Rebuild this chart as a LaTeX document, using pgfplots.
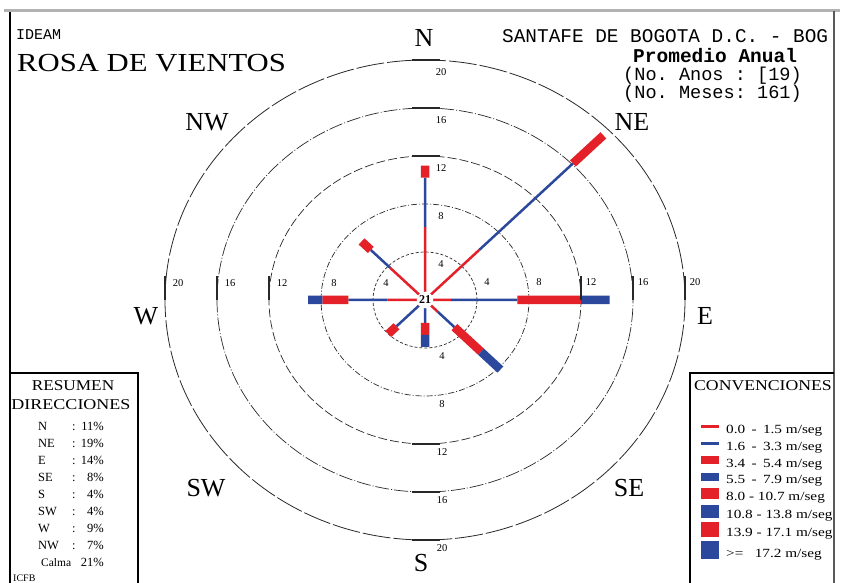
\documentclass[border=0pt]{standalone}
\usepackage{fontspec}
\setmainfont{Liberation Serif}
\setmonofont{Liberation Mono}
\usepackage{pgfplots}
\pgfplotsset{compat=1.18}
\definecolor{rosered}{RGB}{228,32,40}
\definecolor{roseblue}{RGB}{44,72,156}
\definecolor{ringgray}{RGB}{40,40,40}
\newcommand{\fs}[1]{\fontsize{#1}{#1}\selectfont}
\newcommand{\key}[1]{\scalebox{1.22}[1]{#1}}

\begin{document}
\begin{tikzpicture}
\path[use as bounding box] (0,0) rectangle (841pt,583pt);
\fill[white] (0,0) rectangle (841pt,583pt);

\begin{axis}[
  at={(0,0)}, anchor=south west,
  width=841pt, height=583pt, scale only axis,
  xmin=-32.6923, xmax=32, ymin=-23.5833, ymax=25,
  hide axis, clip=false,
  unbounded coords=jump,
  legend cell align=left,
  legend image code/.code={\draw[#1,line cap=butt] (0pt,3.5pt) -- (18pt,3.5pt);},
  legend style={at={(0.8228,0.2779)}, anchor=north west, draw=none, fill=none,
    inner sep=0pt, row sep=-1.3pt, column sep=-2pt,
    nodes={inner sep=0pt, text height=12.5pt, text depth=5.5pt, font=\fs{12.5}}},
]
% rings (percent of time)
\draw[ringgray, line width=0.7pt, dash pattern=on 3pt off 2pt] (axis cs:0,0) ellipse [x radius=4, y radius=4];
\draw[ringgray, line width=0.7pt, dash pattern=on 6pt off 2pt on 1pt off 2pt] (axis cs:0,0) ellipse [x radius=8, y radius=8];
\draw[ringgray, line width=0.7pt, dash pattern=on 9pt off 3pt] (axis cs:0,0) ellipse [x radius=12, y radius=12];
\draw[ringgray, line width=0.7pt, dash pattern=on 14pt off 2pt on 1pt off 2pt] (axis cs:0,0) ellipse [x radius=16, y radius=16];
\draw[ringgray, line width=0.8pt, dash pattern=on 28pt off 3pt] (axis cs:0,0) ellipse [x radius=20, y radius=20];

% 0.0 - 1.5 m/seg
\addplot[rosered, line width=2.5pt, line cap=butt] coordinates {
 (0,0) (0,6.1) (nan,nan)
 (0,0) (4.17,4.17) (nan,nan)
 (0,0) (2.0,0) (nan,nan)
 (0,0) (0.99,-0.99) (nan,nan)
 (0,0) (0,-0.6) (nan,nan)
 (0,0) (-0.49,-0.49) (nan,nan)
 (0,0) (-2.9,0) (nan,nan)
 (0,0) (-2.69,2.69)
};
\addlegendentry{\key{0.0 \,- \,1.5 m/seg}}
% 1.6 - 3.3 m/seg
\addplot[roseblue, line width=2.5pt, line cap=butt] coordinates {
 (0,6.1) (0,10.2) (nan,nan)
 (4.17,4.17) (11.38,11.38) (nan,nan)
 (2.0,0) (7.1,0) (nan,nan)
 (0.99,-0.99) (2.26,-2.26) (nan,nan)
 (0,-0.6) (0,-1.9) (nan,nan)
 (-0.49,-0.49) (-2.19,-2.19) (nan,nan)
 (-2.9,0) (-5.9,0) (nan,nan)
 (-2.69,2.69) (-4.17,4.17)
};
\addlegendentry{\key{1.6 \,- \,3.3 m/seg}}
% 3.4 - 5.4 m/seg
\addplot[rosered, line width=8.5pt, line cap=butt] coordinates {
 (0,10.2) (0,11.2) (nan,nan)
 (11.38,11.38) (13.72,13.72) (nan,nan)
 (7.1,0) (12.0,0) (nan,nan)
 (2.26,-2.26) (4.31,-4.31) (nan,nan)
 (0,-1.9) (0,-2.9) (nan,nan)
 (-2.19,-2.19) (-2.83,-2.83) (nan,nan)
 (-5.9,0) (-7.9,0) (nan,nan)
 (-4.17,4.17) (-4.88,4.88)
};
\addlegendentry{\key{3.4 \,- \,5.4 m/seg}}
% 5.5 - 7.9 m/seg
\addplot[roseblue, line width=8.5pt, line cap=butt] coordinates {
 (12.0,0) (14.2,0) (nan,nan)
 (4.31,-4.31) (5.80,-5.80) (nan,nan)
 (0,-2.9) (0,-3.9) (nan,nan)
 (-7.9,0) (-9.0,0)
};
\addlegendentry{\key{5.5 \,- \,7.9 m/seg}}
\addlegendimage{rosered, line width=11pt}
\addlegendentry{\key{8.0 - 10.7 m/seg}}
\addlegendimage{roseblue, line width=13pt}
\addlegendentry{\key{10.8 - 13.8 m/seg}}
\addlegendimage{rosered, line width=15pt}
\addlegendentry{\key{13.9 - 17.1 m/seg}}
\addlegendimage{roseblue, line width=18pt}
\addlegendentry{\key{>= \ \ 17.2 m/seg}}

\node[fill=white, circle, inner sep=0.8pt, font=\fs{12}\bfseries] at (axis cs:0,0) {21};
\end{axis}

\begin{scope}[x=1pt, y=-1pt, yshift=583pt]
 % frame and boxes
 \draw[gray!60, line width=3pt] (4,11) -- (840,11);
 \draw[black, line width=2pt] (10,12) -- (10,583);
 \draw[gray!70!black, line width=2.5pt] (834,11) -- (834,583);
 \draw[black, line width=2.5pt] (10,373) -- (138,373) -- (138,583);
 \draw[black, line width=2.5pt] (690,583) -- (690,373) -- (834,373);

 % solid marks on the rings
 \foreach \r in {12,16,20} {
   \draw[ringgray, line width=1.2pt] (412,{300-12*\r}) -- (440,{300-12*\r});
   \draw[ringgray, line width=1.2pt] (412,{300+12*\r}) -- (440,{300+12*\r});
   \draw[ringgray, line width=1.2pt] ({425+13*\r},276) -- ({425+13*\r},300);
   \draw[ringgray, line width=1.2pt] ({425-13*\r},276) -- ({425-13*\r},300);
 }

 % ring labels
 \foreach \r in {4,8,12,16,20} {
   \node[font=\fs{10.5}, inner sep=0.5pt] at (441,{300-12*\r+12}) {\r};
   \node[font=\fs{10.5}, inner sep=0.5pt] at (442,{300+12*\r+8}) {\r};
   \node[font=\fs{10.5}, inner sep=0.5pt] at ({425+13*\r+10},282) {\r};
   \node[font=\fs{10.5}, inner sep=0.5pt] at ({425-13*\r+13},283) {\r};
 }

 % compass points
 \node[font=\fs{26}] at (424,38) {N};
 \node[font=\fs{26}] at (632,122) {NE};
 \node[font=\fs{26}] at (705,316) {E};
 \node[font=\fs{26}] at (629,488) {SE};
 \node[font=\fs{26}] at (421,563) {S};
 \node[font=\fs{26}] at (206,488) {SW};
 \node[font=\fs{26}] at (146,316) {W};
 \node[font=\fs{26}] at (207,122) {NW};

 % titles
 \node[anchor=base west, inner sep=0pt, font=\ttfamily\fs{15}] at (16,40) {IDEAM};
 \node[anchor=base west, inner sep=0pt, font=\fs{26}] at (17,72) {\scalebox{1.18}[1]{ROSA DE VIENTOS}};
 \node[anchor=base west, inner sep=0pt, font=\ttfamily\fs{19.4}] at (502,43) {SANTAFE DE BOGOTA D.C. - BOG};
 \node[anchor=base west, inner sep=0pt, font=\ttfamily\bfseries\fs{19.5}] at (633,63) {Promedio Anual};
 \node[anchor=base west, inner sep=0pt, font=\ttfamily\fs{18.6}] at (623,81) {(No. Anos : [19)};
 \node[anchor=base west, inner sep=0pt, font=\ttfamily\fs{18.6}] at (623,99) {(No. Meses: 161)};

 % summary box
 \node[font=\fs{15}] at (73,386) {\scalebox{1.15}[1]{RESUMEN}};
 \node[font=\fs{15}] at (71,405) {\scalebox{1.2}[1]{DIRECCIONES}};
 \foreach \d/\p [count=\i from 0] in {N/11, NE/19, E/14, SE/8, S/4, SW/4, W/9, NW/7} {
   \node[anchor=base west, inner sep=0pt, font=\fs{12.5}] at (38,{431+17*\i}) {\d};
   \node[anchor=base west, inner sep=0pt, font=\fs{12.5}] at (72,{431+17*\i}) {:};
   \node[anchor=base east, inner sep=0pt, font=\fs{12.5}] at (104,{431+17*\i}) {\p\%};
 }
 \node[anchor=base west, inner sep=0pt, font=\fs{11.5}] at (41,567) {Calma};
 \node[anchor=base east, inner sep=0pt, font=\fs{12.5}] at (104,567) {21\%};
 \node[anchor=base west, inner sep=0pt, font=\fs{10}] at (13,582) {ICFB};

 % key box
 \node[font=\fs{15}] at (763,386) {\scalebox{1.18}[1]{CONVENCIONES}};
\end{scope}
\end{tikzpicture}
\end{document}
